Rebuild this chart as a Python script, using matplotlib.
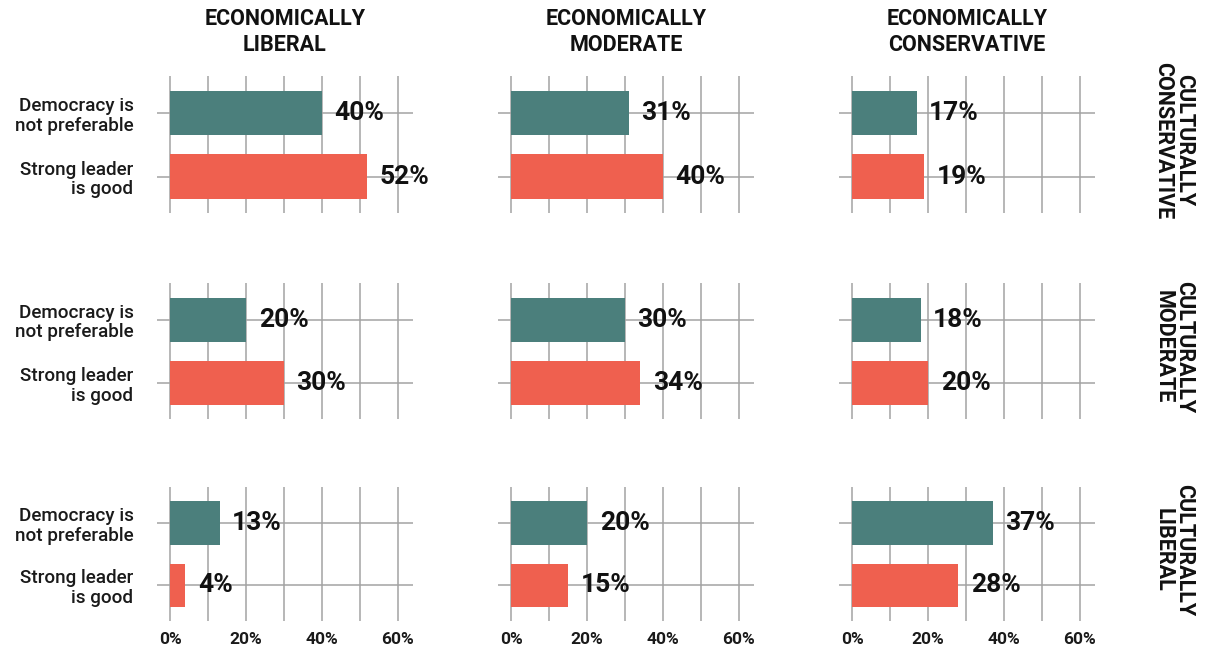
import matplotlib
matplotlib.use('Agg')
import matplotlib.pyplot as plt

plt.rcParams['font.family'] = ['Roboto', 'DejaVu Sans']

# data
econ_groups = ['ECONOMICALLY\nLIBERAL', 'ECONOMICALLY\nMODERATE', 'ECONOMICALLY\nCONSERVATIVE']
cult_groups = ['CULTURALLY\nCONSERVATIVE', 'CULTURALLY\nMODERATE', 'CULTURALLY\nLIBERAL']
items = ['Democracy is\nnot preferable', 'Strong leader\nis good']

# rows = cultural group, columns = economic group
democracy_not_pref = [[40, 31, 17],
                      [20, 30, 18],
                      [13, 20, 37]]
strong_leader_good = [[52, 40, 19],
                      [30, 34, 20],
                      [4, 15, 28]]

tick_vals = [0, 20, 40, 60]
tick_labels = ['0%', '20%', '40%', '60%']

green = '#4b7f7c'
red = '#ef604f'
grid_col = '#a3a3a3'

W, H = 1206, 650
fig = plt.figure(figsize=(W / 100, H / 100), dpi=100)

col_left = [157, 498, 839]
col_width = 256
row_top = [76, 283, 487]
row_height = [137, 136, 134]

for r in range(3):
    for c in range(3):
        ax = fig.add_axes([col_left[c] / W, 1 - (row_top[r] + row_height[r]) / H,
                           col_width / W, row_height[r] / H])
        vals = [democracy_not_pref[r][c], strong_leader_good[r][c]]
        ax.barh([0, 1], vals, height=0.7, color=[green, red], zorder=3)
        for y, v in zip([0, 1], vals):
            ax.annotate(f'{v}%', (v, y), xytext=(9, 0), textcoords='offset points',
                        ha='left', va='center', fontsize=19, fontweight='bold',
                        color='#111111', zorder=4)
        ax.set_xlim(-3.5, 64)
        ax.set_ylim(1.57, -0.58)
        ax.set_xticks(tick_vals)
        ax.set_xticks([10, 30, 50], minor=True)
        ax.set_yticks([0, 1])
        ax.grid(True, which='both', axis='x', color=grid_col, lw=1.1, zorder=0)
        ax.grid(True, which='major', axis='y', color=grid_col, lw=1.1, zorder=0)
        ax.tick_params(which='both', length=0)
        for s in ax.spines.values():
            s.set_visible(False)
        if c == 0:
            ax.set_yticklabels(items, fontsize=13.6, fontweight='medium',
                               color='#1a1a1a', linespacing=1.12)
            ax.tick_params(axis='y', pad=17)
        else:
            ax.set_yticklabels([])
        if r == 2:
            ax.set_xticklabels(tick_labels, fontsize=12.5, fontweight='bold', color='#1a1a1a')
            ax.tick_params(axis='x', pad=8)
        else:
            ax.set_xticklabels([])
        if r == 0:
            ax.text(0.5, 1 + 44 / row_height[r], econ_groups[c], transform=ax.transAxes,
                    ha='center', va='center', fontsize=15.5, fontweight='bold',
                    color='#111111', linespacing=1.25)
        if c == 2:
            ax.text(1174 / W, 1 - (row_top[r] + row_height[r] / 2 - 4) / H, cult_groups[r],
                    transform=fig.transFigure, rotation=-90, ha='center', va='center',
                    fontsize=15.5, fontweight='bold', color='#111111', linespacing=0.95)

fig.savefig('out.png', dpi=100)
